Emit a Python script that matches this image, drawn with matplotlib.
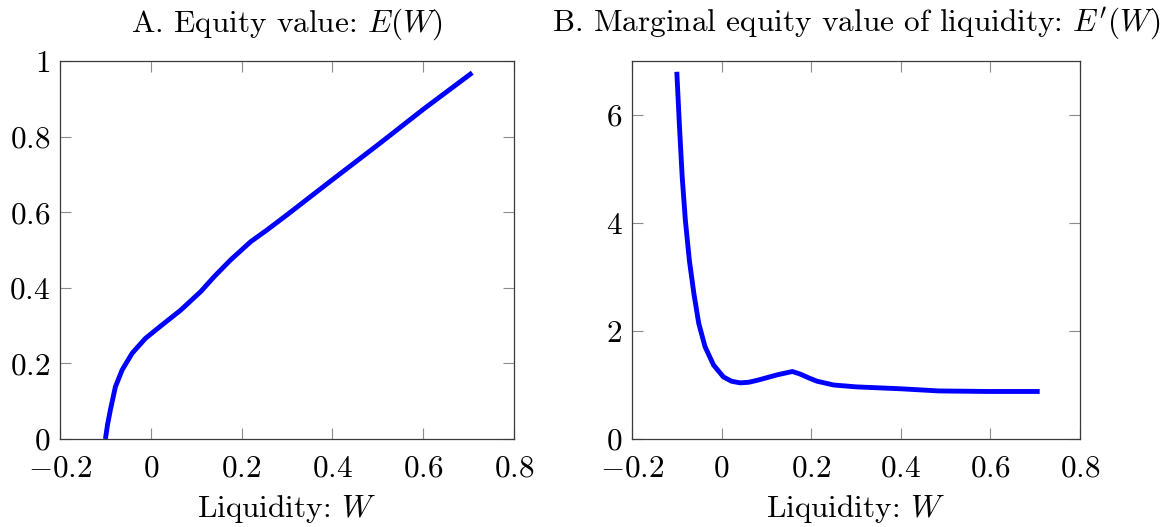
import matplotlib
matplotlib.use('Agg')
import matplotlib.pyplot as plt

# Panel A: equity value E(W)
w_a = [-0.100, -0.095, -0.089, -0.078, -0.063, -0.041, -0.012, 0.025, 0.065,
       0.110, 0.140, 0.176, 0.220, 0.256, 0.300, 0.400, 0.500, 0.600, 0.708]
e_a = [0.000, 0.040, 0.077, 0.138, 0.183, 0.227, 0.266, 0.302, 0.340,
       0.390, 0.430, 0.474, 0.522, 0.553, 0.593, 0.686, 0.778, 0.872, 0.969]

# Panel B: marginal equity value E'(W)
w_b = [-0.100, -0.094, -0.088, -0.081, -0.072, -0.062, -0.051, -0.037, -0.018,
       0.004, 0.022, 0.041, 0.060, 0.081, 0.125, 0.158, 0.176, 0.195, 0.213,
       0.250, 0.301, 0.400, 0.485, 0.596, 0.710]
e_b = [6.80, 5.78, 4.86, 4.06, 3.31, 2.70, 2.14, 1.71, 1.37,
       1.15, 1.07, 1.04, 1.05, 1.09, 1.19, 1.25, 1.20, 1.13, 1.07,
       1.00, 0.965, 0.93, 0.89, 0.88, 0.88]

xticks = [-0.2, 0, 0.2, 0.4, 0.6, 0.8]
xticklabels = ['$-0.2$', '$0$', '$0.2$', '$0.4$', '$0.6$', '$0.8$']
yticks_a = [0, 0.2, 0.4, 0.6, 0.8, 1]
yticklabels_a = ['$0$', '$0.2$', '$0.4$', '$0.6$', '$0.8$', '$1$']
yticks_b = [0, 2, 4, 6]
yticklabels_b = ['$0$', '$2$', '$4$', '$6$']

plt.rcParams['font.family'] = 'cmr10'
plt.rcParams['mathtext.fontset'] = 'cm'
plt.rcParams['axes.formatter.use_mathtext'] = True

fs = 22.5
fig = plt.figure(figsize=(11.69, 5.27), dpi=100)
ax1 = fig.add_axes([60 / 1169, 88 / 527, 454 / 1169, 378 / 527])
ax2 = fig.add_axes([632 / 1169, 88 / 527, 448 / 1169, 378 / 527])


def style(ax, yticks, yticklabels, ylim, title):
    ax.set_xlim(-0.2, 0.8)
    ax.set_ylim(*ylim)
    ax.set_xticks(xticks)
    ax.set_xticklabels(xticklabels, fontsize=fs)
    ax.set_yticks(yticks)
    ax.set_yticklabels(yticklabels, fontsize=fs)
    ax.tick_params(direction='in', length=8, width=0.8, color='#8c8c8c',
                   top=True, right=True)
    ax.tick_params(axis='x', pad=11)
    ax.tick_params(axis='y', pad=7)
    for s in ax.spines.values():
        s.set_color('#3a3a3a')
        s.set_linewidth(0.9)
    ax.set_xlabel('Liquidity: $W$', fontsize=fs, labelpad=8)
    ax.set_title(title, fontsize=fs, pad=21)


ax1.plot(w_a, e_a, color='#0000ff', lw=3.5, solid_capstyle='butt')
style(ax1, yticks_a, yticklabels_a, (0, 1), 'A. Equity value: $E(W)$')

ax2.plot(w_b, e_b, color='#0000ff', lw=3.5, solid_capstyle='butt')
style(ax2, yticks_b, yticklabels_b, (0, 7),
      "B. Marginal equity value of liquidity: $E'(W)$")

fig.savefig('out.png', dpi=100)
